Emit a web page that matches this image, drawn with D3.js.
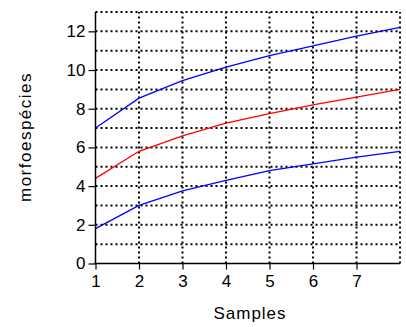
<!DOCTYPE html>
<html>
<head>
<meta charset="utf-8">
<script src="https://cdn.jsdelivr.net/npm/d3@7"></script>
<style>
  html, body { margin: 0; padding: 0; background: #fff; }
  svg { display: block; }
  text { font-family: "Liberation Sans", Arial, sans-serif; fill: #000; }
</style>
</head>
<body>
<svg id="chart" width="406" height="327"></svg>
<script>
// Accumulation curves of morphospecies by number of samples
const samples = [1, 2, 3, 4, 5, 6, 7, 8];
const upperBound = [7.0, 8.55, 9.45, 10.15, 10.75, 11.25, 11.75, 12.2];
const observed = [4.4, 5.8, 6.6, 7.25, 7.75, 8.2, 8.6, 9.0];
const lowerBound = [1.8, 3.0, 3.75, 4.3, 4.8, 5.15, 5.5, 5.8];
const xTicks = [1, 2, 3, 4, 5, 6, 7];
const yTicks = [0, 2, 4, 6, 8, 10, 12];

const svg = d3.select("#chart");
const x = d3.scaleLinear().domain([1, 8]).range([95.5, 400]);
const y = d3.scaleLinear().domain([0, 13]).range([263.5, 12]);

// dotted grid
const grid = svg.append("g")
  .attr("stroke", "#000").attr("stroke-width", 2).attr("stroke-dasharray", "2,3");
grid.selectAll("line.h").data(d3.range(1, 14)).join("line")
  .attr("x1", x(1)).attr("x2", x(8))
  .attr("y1", d => y(d)).attr("y2", d => y(d));
grid.selectAll("line.v").data(d3.range(2, 9)).join("line")
  .attr("x1", d => x(d)).attr("x2", d => x(d))
  .attr("y1", y(0)).attr("y2", y(13));

// series
const line = d3.line().x((d, i) => x(samples[i])).y(d => y(d));
[[upperBound, "#0000ff"], [observed, "#ff0000"], [lowerBound, "#0000ff"]].forEach(([vals, col]) => {
  svg.append("path").datum(vals).attr("d", line)
    .attr("fill", "none").attr("stroke", col).attr("stroke-width", 1.3);
});

// axes
const xAxis = d3.axisBottom(x).tickValues(xTicks).tickFormat(d3.format("d"))
  .tickSize(6).tickPadding(5).tickSizeOuter(0);
const gx = svg.append("g").attr("transform", `translate(0,${y(0)})`).call(xAxis);
const yAxis = d3.axisLeft(y).tickValues(yTicks).tickFormat(d3.format("d"))
  .tickSize(7).tickPadding(3).tickSizeOuter(0);
const gy = svg.append("g").attr("transform", `translate(${x(1)},0)`).call(yAxis);
[gx, gy].forEach(g => {
  g.select(".domain").attr("stroke", "#000").attr("stroke-width", 1.5);
  g.selectAll(".tick line").attr("stroke", "#000").attr("stroke-width", 1.2);
  g.selectAll(".tick text").attr("font-size", 17).attr("font-family", "Liberation Sans, Arial, sans-serif");
});
gy.select(".domain").attr("d", `M0,${y(13)}V${y(0)}`);
gx.select(".domain").attr("d", `M${x(1) - 1},0H${x(8)}`);

// axis titles
svg.append("text").attr("x", 250).attr("y", 319).attr("text-anchor", "middle")
  .attr("font-size", 17).attr("letter-spacing", 1).text("Samples");
svg.append("text").attr("transform", "translate(31,137) rotate(-90)")
  .attr("text-anchor", "middle").attr("font-size", 17).attr("letter-spacing", 1.5)
  .text("morfoespécies");
</script>
</body>
</html>
